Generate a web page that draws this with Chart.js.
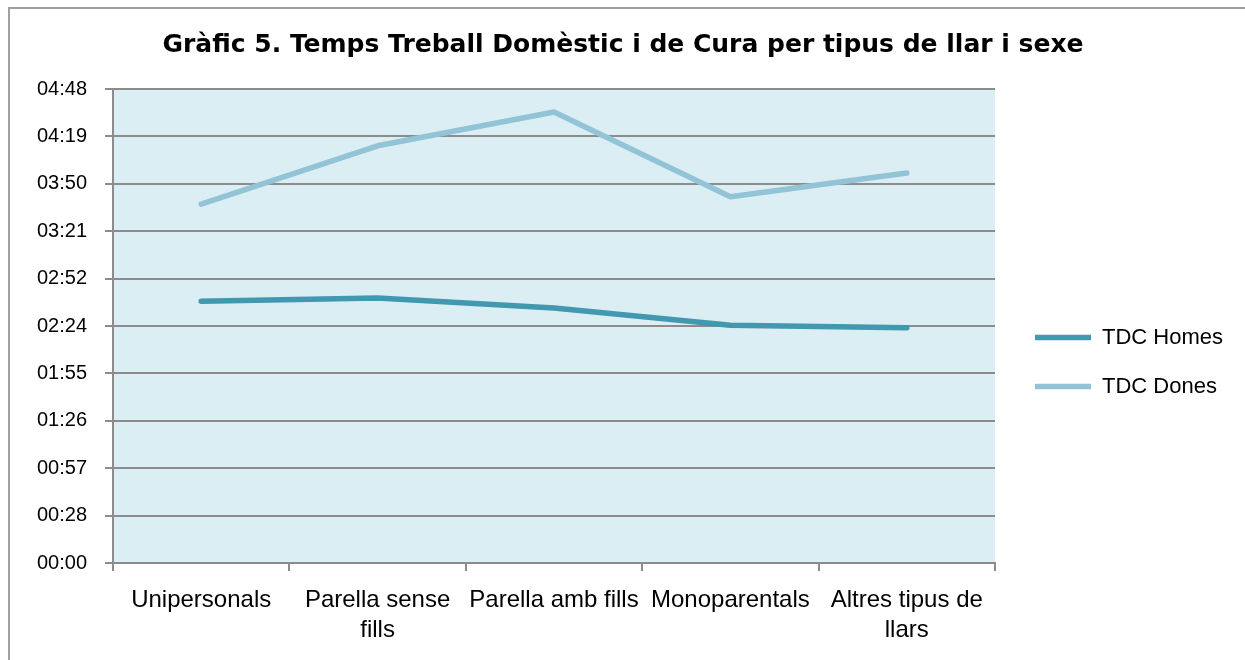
<!DOCTYPE html>
<html>
<head>
<meta charset="utf-8">
<script src="https://cdn.jsdelivr.net/npm/chart.js@4"></script>
<style>
  html, body { margin: 0; padding: 0; background: #fff; }
  #wrap { position: relative; width: 1245px; height: 660px; }
  #frame { position: absolute; left: 8px; top: 7px; width: 1300px; height: 700px; border-left: 2px solid #a0a0a0; border-top: 2px solid #a0a0a0; }
  canvas { position: absolute; left: 0; top: 0; }
</style>
</head>
<body>
<div id="wrap">
  <div id="frame"></div>
  <canvas id="chart" width="1245" height="660"></canvas>
</div>
<script>
const categories = ["Unipersonals", ["Parella sense", "fills"], "Parella amb fills", "Monoparentals", ["Altres tipus de", "llars"]];
// minutes per day
const tdcHomes = [159, 161, 155, 144.5, 143];
const tdcDones = [218, 253.5, 274, 222.5, 237];
const yTickLabels = ["00:00", "00:28", "00:57", "01:26", "01:55", "02:24", "02:52", "03:21", "03:50", "04:19", "04:48"];
const yStep = 28.8;

const plotBackground = {
    id: "plotBackground",
    beforeDraw(chart) {
        const { ctx, chartArea } = chart;
        ctx.save();
        ctx.fillStyle = "#dbeef4";
        ctx.fillRect(chartArea.left, chartArea.top, chartArea.right - chartArea.left, chartArea.bottom - chartArea.top);
        ctx.restore();
    }
};

// push the legend a bit further from the plot, like Excel does
const legendShift = {
    id: "legendShift",
    afterLayout(chart) {
        chart.legend.left += 13;
        chart.legend.right += 13;
    }
};

const sans = "'Liberation Sans', Arial, sans-serif";

new Chart(document.getElementById("chart").getContext("2d"), {
    type: "line",
    data: {
        labels: categories,
        datasets: [{
            label: "TDC Homes",
            data: tdcHomes,
            borderColor: "#4198af",
            backgroundColor: "#4198af",
            borderWidth: 5.5,
            borderCapStyle: "round",
            borderJoinStyle: "round",
            pointRadius: 0,
            fill: false
        }, {
            label: "TDC Dones",
            data: tdcDones,
            borderColor: "#93c3d6",
            backgroundColor: "#93c3d6",
            borderWidth: 5.5,
            borderCapStyle: "round",
            borderJoinStyle: "round",
            pointRadius: 0,
            fill: false
        }]
    },
    options: {
        responsive: false,
        animation: false,
        layout: { padding: { left: 26, right: 25, top: 0, bottom: 0 } },
        plugins: {
            title: {
                display: true,
                text: "Gràfic 5. Temps Treball Domèstic i de Cura per tipus de llar i sexe",
                color: "#000",
                font: { family: "'DejaVu Sans', Verdana, sans-serif", size: 25, weight: "bold", lineHeight: 1.2 },
                padding: { top: 30, bottom: 29 }
            },
            legend: {
                position: "right",
                title: {
                    display: true,
                    text: " ",
                    color: "rgba(0,0,0,0)",
                    font: { size: 12, lineHeight: 1 },
                    padding: { top: 26, bottom: 26 }
                },
                labels: {
                    usePointStyle: true,
                    pointStyle: "line",
                    pointStyleWidth: 56,
                    boxWidth: 56,
                    color: "#000",
                    font: { family: sans, size: 22 },
                    padding: 27
                }
            },
            tooltip: { enabled: false }
        },
        scales: {
            x: {
                offset: true,
                grid: {
                    offset: true,
                    drawOnChartArea: false,
                    drawTicks: true,
                    tickLength: 8,
                    color: "#8c8c8c",
                    lineWidth: 2
                },
                border: { color: "#8c8c8c", width: 2 },
                ticks: {
                    color: "#000",
                    font: { family: sans, size: 24, lineHeight: 1.25 },
                    maxRotation: 0,
                    autoSkip: false,
                    padding: 14
                },
                afterFit(scale) { scale.height = 97; }
            },
            y: {
                min: 0,
                max: 288,
                ticks: {
                    stepSize: yStep,
                    color: "#000",
                    font: { family: sans, size: 20 },
                    padding: 18,
                    callback: (value) => yTickLabels[Math.round(value / yStep)]
                },
                grid: {
                    color: "#8c8c8c",
                    lineWidth: 2,
                    tickLength: 8
                },
                border: { color: "#8c8c8c", width: 2 },
                afterFit(scale) { scale.width = 87; }
            }
        }
    },
    plugins: [plotBackground, legendShift]
});
</script>
</body>
</html>
